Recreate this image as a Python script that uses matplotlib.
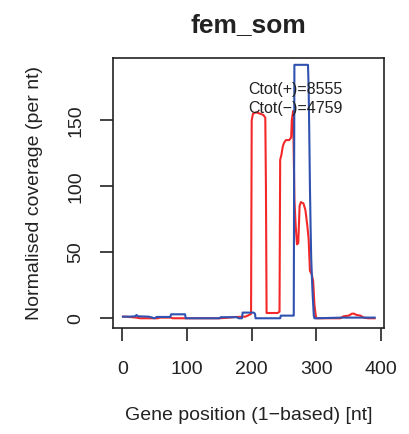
import matplotlib
matplotlib.use("Agg")
import matplotlib.pyplot as plt

plt.rcParams['font.family'] = ['Liberation Sans', 'DejaVu Sans']

# Coverage (position in nt, coverage per nt)
plus_pos = [1, 8, 10, 22, 28, 55, 58, 75, 78, 100, 150, 165, 175, 180, 186,
            190, 196, 199, 200, 202, 207, 213, 218, 221, 222, 223, 230, 240,
            243, 244, 246, 248, 250, 253, 258, 261, 262, 264, 266, 268, 270,
            272, 274, 276, 280, 283, 286, 288, 290, 293, 295, 297, 299, 300,
            310, 330, 337, 342, 350, 355, 358, 362, 368, 373, 380, 390]
plus_cov = [1.2, 1.2, 1.0, 0.5, 0, 0, 0.5, 0.5, 0, 0, 0, 0.5, 1, 1, 1.2,
            1.2, 2.5, 3.3, 150, 155, 156, 155, 154, 152, 100, 4, 4, 4,
            5, 120, 124, 130, 133, 135, 135, 137, 150, 157, 90, 70, 56,
            57, 85, 88, 87, 82, 70, 60, 36, 33, 28, 10, 2, 0,
            0, 0, 0, 1.5, 2, 3.5, 3.5, 2.5, 2, 0.5, 0, 0]

minus_pos = [1, 10, 20, 22, 24, 41, 50, 53, 70, 74, 75.5, 97, 98, 120, 150,
             152, 177, 180, 185, 186, 203, 205, 206, 230, 244, 245, 264, 265,
             266, 287, 288, 289, 290, 291, 292, 294, 296, 297, 300, 340, 390]
minus_cov = [1.2, 1.2, 1.5, 2.5, 1.5, 1.2, 0, 1, 1, 1, 3, 3, 0, 0, 0,
             0.8, 0.8, 0, 0, 4.3, 4.3, 3.5, 0, 0, 0, 2, 2, 2,
             192, 192, 175, 140, 100, 70, 45, 20, 2, 0, 0, 0.5, 0.5]

ctot_plus = 8555
ctot_minus = 4759

fig = plt.figure(figsize=(4.09, 4.34), dpi=100)
ax = fig.add_axes([113/409, 1 - 328.3/434, 271/409, 270.6/434])

ax.plot(plus_pos, plus_cov, color='#F42828', lw=1.5)
ax.plot(minus_pos, minus_cov, color='#2F52B0', lw=1.5)

ax.set_xlim(-14.4, 404.5)
ax.set_ylim(-7.6, 197.4)
ax.set_xticks([0, 100, 200, 300, 400])
ax.set_yticks([0, 50, 100, 150])

for s in ax.spines.values():
    s.set_color('#222222')
    s.set_linewidth(1.2)
ax.tick_params(axis='both', length=9.4, width=1.2, color='#222222',
               labelsize=14, labelcolor='#222222')
ax.tick_params(axis='x', pad=14)
ax.tick_params(axis='y', pad=11)
for lab in ax.get_yticklabels():
    lab.set_rotation(90)
    lab.set_va('center')

ax.text(195, 173, 'Ctot(+)=%d' % ctot_plus, fontsize=11.5, va='center',
        ha='left', color='#222222')
ax.text(195, 159, 'Ctot(\u2212)=%d' % ctot_minus, fontsize=11.5, va='center',
        ha='left', color='#222222')

cx = (113 + 384) / 2 / 409
fig.text(cx, 1 - 31.7/434, 'fem_som', fontsize=19, fontweight='bold',
         ha='center', va='baseline', color='#222222')
fig.text(cx, 1 - 416/434, 'Gene position (1\u2212based) [nt]', fontsize=14,
         ha='center', va='center', color='#222222')
fig.text(35/409, 1 - 193/434, 'Normalised coverage (per nt)', fontsize=14,
         rotation=90, ha='center', va='center', color='#222222')

fig.savefig('out.png', dpi=100)
